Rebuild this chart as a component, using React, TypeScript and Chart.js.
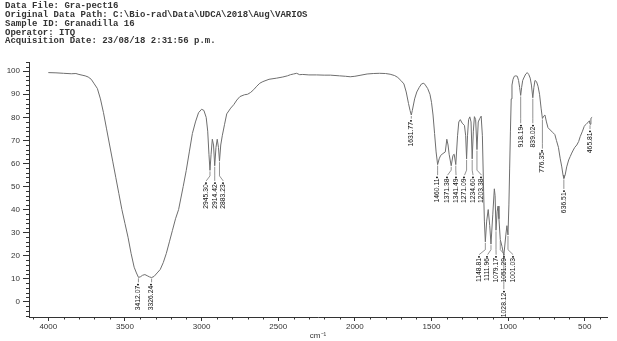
import React, { useEffect, useRef } from "react";
import { Chart, registerables } from "chart.js";

Chart.register(...registerables);

const headerLines = [
  "Data File: Gra-pect16",
  "Original Data Path: C:\\Bio-rad\\Data\\UDCA\\2018\\Aug\\VARIOS",
  "Sample ID: Granadilla 16",
  "Operator: ITQ",
  "Acquisition Date: 23/08/18 2:31:56 p.m.",
];

const xTickValues = [4000, 3500, 3000, 2500, 2000, 1500, 1000, 500];
const yTickValues = [0, 10, 20, 30, 40, 50, 60, 70, 80, 90, 100];

const wavenumbers = [
  4000, 3950, 3900, 3850, 3820, 3800, 3780, 3760, 3740, 3720, 3700, 3680, 3660, 3640, 3620, 3600,
  3580, 3560, 3540, 3520, 3500, 3480, 3460, 3440, 3425, 3412.07, 3400, 3385, 3370, 3355, 3340,
  3326.24, 3310, 3290, 3270, 3250, 3230, 3210, 3190, 3170, 3150, 3120, 3100, 3080, 3060, 3040,
  3020, 3000, 2985, 2970, 2960, 2952, 2945.3, 2938, 2930, 2922, 2914.42, 2906, 2898, 2890,
  2883.23, 2875, 2865, 2850, 2836, 2810, 2790, 2770, 2750, 2720, 2700, 2680, 2660, 2640, 2620,
  2600, 2560, 2510, 2470, 2440, 2420, 2400, 2380, 2360, 2340, 2300, 2250, 2200, 2160, 2100,
  2060, 2030, 2000, 1960, 1920, 1880, 1840, 1800, 1770, 1740, 1720, 1700, 1680, 1665, 1650,
  1640, 1631.77, 1625, 1610, 1596, 1580, 1565, 1550, 1540, 1525, 1510, 1500, 1490, 1480, 1470,
  1460.11, 1450, 1440, 1425, 1410, 1400, 1392, 1385, 1371.38, 1360, 1352, 1341.49, 1330, 1322,
  1312, 1300, 1285, 1277, 1271.09, 1265, 1258, 1250, 1242, 1234.6, 1227, 1220, 1212, 1203.38,
  1195, 1185, 1176, 1168, 1160, 1155, 1148.81, 1140, 1130, 1120, 1111.96, 1100, 1090, 1085,
  1079.17, 1072, 1066, 1060, 1051.29, 1040, 1028.12, 1015, 1008, 1001.03, 995, 990, 985, 980,
  975, 968, 960, 950, 940, 932, 925, 918.19, 912, 905, 895, 885, 875, 865, 856, 848, 839.02,
  832, 825, 815, 805, 795, 785, 776.35, 768, 760, 750, 740, 725, 710, 695, 685, 672, 660, 650,
  642, 636.51, 628, 618, 605, 595, 585, 575, 565, 552, 540, 530, 515, 504, 495, 486, 475, 470,
  465.81, 460, 452,
];

const transmittance = [
  99.4, 99.3, 99.1, 98.9, 99.0, 98.6, 98.3, 98.0, 97.5, 96.5, 94.5, 92.5, 88, 82, 75, 68,
  61, 54, 47, 40, 34, 28, 21, 15, 12.5, 10.6, 10.8, 11.5, 11.8, 11.3, 10.8,
  10.5, 11, 12.5, 14, 17, 21, 26, 31, 36, 40, 50, 57, 65, 73, 78,
  82, 83.5, 83, 80, 74, 64, 57, 64, 70.5, 68, 59, 67, 70.5, 67,
  61, 68, 72, 77, 81.5, 84, 85.5, 87.5, 89, 89.8, 90, 90.8, 92, 93.5, 94.8,
  95.5, 96.5, 97, 97.5, 98, 98.5, 98.8, 99.1, 98.5, 98.6, 98.4, 98.4, 98.3, 98.3, 98,
  97.8, 97.6, 97.8, 98.3, 98.8, 99, 99.1, 99, 98.7, 98.1, 97.3, 96, 94.5, 91, 86,
  83, 81, 83, 88, 91, 93, 94.5, 94.8, 94, 92.5, 90, 86.5, 81, 73, 65,
  59.5, 62, 63.5, 64.3, 65, 70.5, 68, 64, 59, 63.5, 64, 59.5, 72, 78,
  79, 77.5, 76.5, 72, 62, 72, 79, 80.2, 78, 62, 74, 80.3, 79, 66,
  78, 79.5, 80.5, 72, 48, 35, 26, 35, 40, 33, 25, 38, 49, 46,
  31, 39, 41.5, 36, 27, 24, 20, 29, 33, 29, 42, 58, 74, 88,
  94, 96.5, 97.8, 98, 97.8, 96, 93, 89.5, 93, 96, 97.5, 98.8, 99.4, 98.5, 97, 94, 88.5,
  93, 96, 95.5, 93.5, 90, 84, 79.5, 80.5, 81, 78, 75.5, 74.5, 73.5, 72.5, 70, 67, 62, 58.5,
  55, 53.5, 55, 58.5, 61.5, 63, 64.5, 65.8, 67, 68, 69.5, 71.6, 74, 76, 76.8, 77.4, 78, 78.5,
  77, 79.6, 80,
];

const peakPositions = [
  3412.07, 3326.24, 2945.3, 2914.42, 2883.23, 1631.77, 1460.11, 1371.38, 1341.49, 1271.09,
  1234.6, 1203.38, 1148.81, 1111.96, 1079.17, 1051.29, 1028.12, 1001.03, 918.19, 839.02,
  776.35, 636.51, 465.81,
];
const peakTexts = [
  "3412.07", "3326.24", "2945.30", "2914.42", "2883.23", "1631.77", "1460.11", "1371.38",
  "1341.49", "1271.09", "1234.60", "1203.38", "1148.81", "1111.96", "1079.17", "1051.29",
  "1028.12", "1001.03", "918.19", "839.02", "776.35", "636.51", "465.81",
];
// transmittance level at which each label's marker sits
const peakLabelLevels = [
  8, 8, 52, 52, 52, 79, 54.5, 54.5, 54.5, 54.5, 54.5, 54.5, 20, 20, 20, 20, 5, 20, 77, 77,
  66, 48.5, 74.5,
];

function interpT(wn: number): number {
  for (let i = 0; i < wavenumbers.length - 1; i++) {
    const a = wavenumbers[i];
    const b = wavenumbers[i + 1];
    if (wn <= a && wn >= b) {
      const f = (a - wn) / (a - b);
      return transmittance[i] + f * (transmittance[i + 1] - transmittance[i]);
    }
  }
  return transmittance[transmittance.length - 1];
}

const headerPlugin = {
  id: "header",
  afterDraw(chart: any) {
    const ctx = chart.ctx;
    ctx.save();
    ctx.font = "bold 9px 'Liberation Mono', 'DejaVu Sans Mono', monospace";
    ctx.fillStyle = "#333";
    ctx.textBaseline = "middle";
    ctx.textAlign = "left";
    headerLines.forEach((l, i) => ctx.fillText(l, 5, 6 + i * 8.8));
    ctx.restore();
  },
};

const minorTicksPlugin = {
  id: "minorTicks",
  afterDraw(chart: any) {
    const ctx = chart.ctx;
    const xs = chart.scales.x;
    const ys = chart.scales.y;
    const area = chart.chartArea;
    ctx.save();
    ctx.strokeStyle = "#333";
    ctx.lineWidth = 1;
    ctx.beginPath();
    for (let v = -6; v <= 104; v += 2) {
      if (v % 10 === 0) continue;
      const py = Math.round(ys.getPixelForValue(v)) + 0.5;
      ctx.moveTo(area.left - 3, py);
      ctx.lineTo(area.left, py);
    }
    for (let v = 400; v <= 4100; v += 100) {
      if (v % 500 === 0) continue;
      const px = Math.round(xs.getPixelForValue(v)) + 0.5;
      ctx.moveTo(px, area.bottom);
      ctx.lineTo(px, area.bottom + 2.5);
    }
    ctx.stroke();
    ctx.restore();
  },
};

const peakLabelPlugin = {
  id: "peakLabels",
  afterDatasetsDraw(chart: any) {
    const ctx = chart.ctx;
    const xs = chart.scales.x;
    const ys = chart.scales.y;
    const items = peakPositions.map((wn, i) => ({
      px: xs.getPixelForValue(wn),
      py: ys.getPixelForValue(interpT(wn)),
      ly: ys.getPixelForValue(peakLabelLevels[i]),
      level: peakLabelLevels[i],
      text: peakTexts[i] + "\u2022",
      lx: 0,
    }));
    const levels = Array.from(new Set(items.map((d) => d.level)));
    const gap = 8.5;
    levels.forEach((lv) => {
      const g = items.filter((d) => d.level === lv).sort((a, b) => a.px - b.px);
      const pos = g.map((d) => d.px);
      for (let it = 0; it < 200; it++) {
        for (let i = 1; i < pos.length; i++) {
          const d = pos[i] - pos[i - 1];
          if (d < gap) {
            const s = (gap - d) / 2;
            pos[i - 1] -= s;
            pos[i] += s;
          }
        }
      }
      g.forEach((d, i) => (d.lx = pos[i]));
    });
    ctx.save();
    ctx.strokeStyle = "#777";
    ctx.lineWidth = 0.8;
    items.forEach((d) => {
      ctx.beginPath();
      const bend = d.ly - 6;
      ctx.moveTo(d.px, d.py + 1);
      if (bend > d.py + 1) ctx.lineTo(d.px, bend);
      ctx.lineTo(d.lx, d.ly - 1);
      ctx.stroke();
    });
    ctx.fillStyle = "#111";
    ctx.font = "6.8px 'Liberation Sans', Arial, sans-serif";
    ctx.textAlign = "right";
    ctx.textBaseline = "middle";
    items.forEach((d) => {
      ctx.save();
      ctx.translate(d.lx, d.ly);
      ctx.rotate(-Math.PI / 2);
      ctx.fillText(d.text, 0, 0);
      ctx.restore();
    });
    ctx.restore();
  },
};

export default function App() {
  const ref = useRef<HTMLCanvasElement | null>(null);
  useEffect(() => {
    if (!ref.current) return;
    const points = wavenumbers.map((w, i) => ({ x: w, y: transmittance[i] }));
    const chart = new Chart(ref.current, {
      type: "line",
      data: {
        datasets: [
          {
            data: points,
            borderColor: "#6e6e6e",
            borderWidth: 1,
            pointRadius: 0,
            tension: 0,
            fill: false,
          },
        ],
      },
      options: {
        animation: false,
        responsive: false,
        maintainAspectRatio: false,
        events: [],
        layout: { padding: { top: 62, right: 10, left: 0, bottom: 0 } },
        plugins: { legend: { display: false }, tooltip: { enabled: false }, title: { display: false } },
        scales: {
          x: {
            type: "linear",
            reverse: true,
            min: 355,
            max: 4126,
            afterBuildTicks: (s: any) => {
              s.ticks = xTickValues.map((v) => ({ value: v }));
            },
            afterFit: (s: any) => {
              s.height = 24;
            },
            grid: { display: true, drawOnChartArea: false, drawTicks: true, tickLength: 4, color: "#333" },
            border: { display: true, color: "#333", width: 1 },
            ticks: {
              autoSkip: false,
              maxRotation: 0,
              padding: 1,
              color: "#333",
              font: { family: "'Liberation Sans', Arial, sans-serif", size: 8 },
              callback: (v: any) => String(v),
            },
            title: {
              display: true,
              text: "cm\u207B\u00B9",
              color: "#333",
              padding: 0,
              font: { family: "'Liberation Sans', Arial, sans-serif", size: 8 },
            },
          },
          y: {
            type: "linear",
            min: -6.6,
            max: 104,
            afterBuildTicks: (s: any) => {
              s.ticks = yTickValues.map((v) => ({ value: v }));
            },
            afterFit: (s: any) => {
              s.width = 29;
            },
            grid: { display: true, drawOnChartArea: false, drawTicks: true, tickLength: 6, color: "#333" },
            border: { display: true, color: "#333", width: 1 },
            ticks: {
              autoSkip: false,
              padding: 3,
              color: "#333",
              font: { family: "'Liberation Sans', Arial, sans-serif", size: 8 },
              callback: (v: any) => String(v),
            },
          },
        },
      },
      plugins: [headerPlugin, minorTicksPlugin, peakLabelPlugin],
    });
    return () => chart.destroy();
  }, []);
  return (
    <div style={{ position: "fixed", left: 0, top: 0, width: 617, height: 341, background: "#fff" }}>
      <canvas ref={ref} width={617} height={341} style={{ width: 617, height: 341, display: "block" }} />
    </div>
  );
}
